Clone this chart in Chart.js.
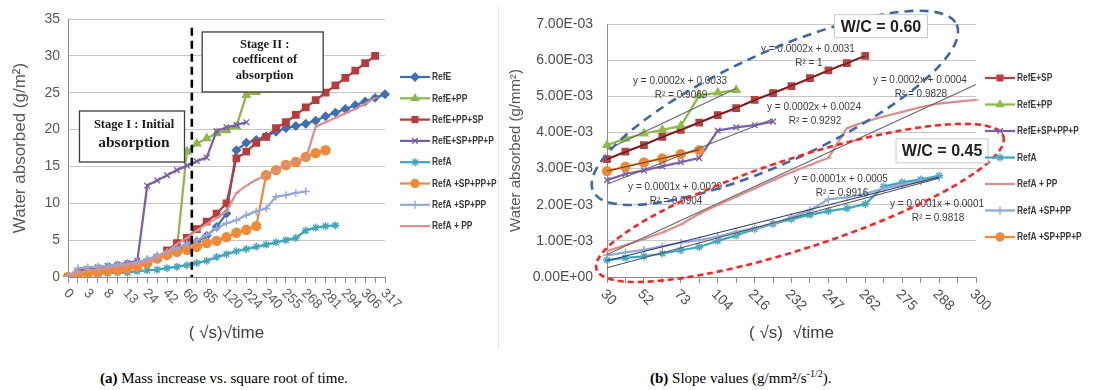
<!DOCTYPE html>
<html><head><meta charset="utf-8">
<script src="https://cdn.jsdelivr.net/npm/chart.js@4.4.1/dist/chart.umd.min.js"></script>
<style>
body{margin:0;background:#fff;width:1093px;height:390px;overflow:hidden;position:relative;}
#c1{position:absolute;left:0;top:0;}
#c2{position:absolute;left:498px;top:0;}
#sep{position:absolute;left:498px;top:6px;width:1px;height:342px;background:#e4e4e4;}
.cap{position:absolute;top:368px;line-height:20px;font-size:15px;color:#000;font-family:"Liberation Serif","Times New Roman",serif;white-space:nowrap;}
.cap sup{font-size:10px;vertical-align:6px;line-height:0;}
</style></head><body>
<canvas id="c1" width="498" height="355"></canvas>
<div id="sep"></div>
<canvas id="c2" width="595" height="355"></canvas>
<div class="cap" style="left:100px"><b>(a)</b> Mass increase vs. square root of time.</div>
<div class="cap" style="left:650px"><b>(b)</b> Slope values (g/mm<b>²</b>/s<sup>-1/2</sup>).</div>
<script>
// ---------------- DATA: left panel (mass increase) ----------------
const leftTimes = ['0','2','3','5','8','11','13','17','24','30','42','52','60','73','85','104','120','216','224','232','240','247','255','262','268','275','281','288','294','300','306','312','317'];
const L_RefE       = [0,0.6,0.8,1.0,1.2,1.4,1.6,1.8,2.1,2.6,3.1,3.6,4.3,4.8,5.6,6.8,8.6,17.2,18.2,18.6,19.1,19.7,20.2,20.5,20.8,21.2,21.8,22.3,22.8,23.3,23.8,24.3,24.8];
const L_RefE_PP    = [0,0.7,0.9,1.1,1.3,1.5,1.7,1.9,2.2,2.7,3.3,3.8,17.0,18.1,18.8,19.5,19.9,20.4,24.7,25.1,25.4];
const L_RefE_PP_SP = [0,0.5,0.7,0.9,1.1,1.3,1.5,1.7,2.0,2.6,3.6,4.6,5.3,6.5,7.5,8.6,10.0,16.1,17.0,18.2,19.0,20.2,21.0,22.0,23.0,24.0,25.0,26.0,27.0,28.0,29.0,30.0];
const L_RefE_SPPPP = [0,0.8,1.1,1.3,1.5,1.7,1.9,2.2,12.4,13.1,13.8,14.5,15.1,15.7,16.2,19.8,20.3,20.6,21.0];
const L_RefA       = [0,0.3,0.4,0.5,0.5,0.6,0.6,0.8,0.9,1.0,1.2,1.4,1.6,1.9,2.2,2.7,3.1,3.5,3.8,4.1,4.4,4.7,5.0,5.3,6.3,6.7,6.9,7.0];
const L_RefA_SPPPP = [0,0.3,0.5,0.6,0.8,0.9,1.1,1.4,1.9,2.5,3.0,3.4,3.7,4.1,4.6,4.9,5.4,6.0,6.4,6.9,13.8,14.5,15.2,15.6,16.3,16.8,17.2];
const L_RefA_SPPP  = [0,1.2,1.3,1.4,1.5,1.7,1.8,2.0,2.4,2.9,3.4,3.9,4.5,5.0,5.7,6.6,7.3,7.7,8.4,8.9,9.3,10.9,11.1,11.4,11.6];
const L_RefA_PP    = [0,0.6,0.8,1.0,1.2,1.4,1.6,1.8,2.1,2.6,3.4,4.5,5.3,6.3,7.2,8.0,8.9,11.4,12.4,13.2,13.8,14.4,15.3,15.7,16.0,20.4,21.0,21.6,22.2,22.8,23.5,24.3];
const leftYTicks = [0,5,10,15,20,25,30,35];

// ---------------- DATA: right panel (slope values) ----------------
const rightTimes = ['30','42','52','60','73','85','104','120','216','224','232','240','247','255','262','268','275','281','288','294','300'];
const R_RefE_SP    = [0.00326,0.00347,0.00365,0.00388,0.00407,0.00427,0.00448,0.00467,0.00490,0.00509,0.00528,0.00550,0.00572,0.00592,0.00612];
const R_RefE_PP    = [0.00365,0.00383,0.00397,0.00407,0.00418,0.00502,0.00510,0.00517];
const R_RefE_SPPPP = [0.00268,0.00285,0.00295,0.00306,0.00318,0.00329,0.00405,0.00414,0.00420,0.00430];
const R_RefA       = [0.00047,0.00053,0.00057,0.00065,0.00074,0.00083,0.00100,0.00115,0.00132,0.00147,0.00160,0.00172,0.00182,0.00190,0.00202,0.00250,0.00262,0.00270,0.00280];
const R_RefA_PP    = [0.00072,0.00088,0.00105,0.00123,0.00145,0.00175,0.00199,0.00222,0.00245,0.00268,0.00290,0.00310,0.00330,0.00412,0.00430,0.00444,0.00457,0.00470,0.00480,0.00485,0.00490];
const R_RefA_SPPP  = [0.00060,0.00068,0.00075,0.00085,0.00095,0.00102,0.00112,0.00125,0.00135,0.00148,0.00165,0.00185,0.00215,0.00220,0.00230,0.00245,0.00255,0.00265,0.00275];
const R_RefA_SPPPPP= [0.00293,0.00305,0.00317,0.00328,0.00340,0.00351];
const rightYTicks = [0,0.001,0.002,0.003,0.004,0.005,0.006,0.007];
const trendEq = ['y = 0.0002x + 0.0031','y = 0.0002x + 0.0033','y = 0.0002x + 0.0024','y = 0.0001x + 0.0001','y = 0.0002x + 0.0004','y = 0.0001x + 0.0005','y = 0.0001x + 0.0029'];
const trendR2 = ['R² = 1','R² = 0.9069','R² = 0.9292','R² = 0.9818','R² = 0.9828','R² = 0.9916','R² = 0.9904'];

// ---------------- styling ----------------
const F = '"Liberation Sans", Arial, sans-serif';
const FSERIF = '"Liberation Serif", "Times New Roman", serif';
const leftSeries = [
  {label:'RefE', data:L_RefE, color:'#3f6fb5', ps:'rectRot', r:4},
  {label:'RefE+PP', data:L_RefE_PP, color:'#8cb84b', ps:'triangle', r:4.5},
  {label:'RefE+PP+SP', data:L_RefE_PP_SP, color:'#b83c3a', ps:'rect', r:4.5},
  {label:'RefE+SP+PP+P', data:L_RefE_SPPPP, color:'#7b5ea7', ps:'crossRot', r:4},
  {label:'RefA', data:L_RefA, color:'#3fa6bd', ps:'star', r:4},
  {label:'RefA +SP+PP+P', data:L_RefA_SPPPP, color:'#f08a38', ps:'circle', r:4.5},
  {label:'RefA +SP+PP', data:L_RefA_SPPP, color:'#93a9d8', ps:'cross', r:4},
  {label:'RefA + PP', data:L_RefA_PP, color:'#d9908e', ps:'dash', r:3}
];
const rightSeries = [
  {label:'RefE+SP', data:R_RefE_SP, color:'#b5403f', ps:'rect', r:4.5, trend:'#5e1b1b'},
  {label:'RefE+PP', data:R_RefE_PP, color:'#8cbd4a', ps:'triangle', r:4.5, trend:'#666'},
  {label:'RefE+SP+PP+P', data:R_RefE_SPPPP, color:'#7d60a8', ps:'crossRot', r:4, trend:'#666'},
  {label:'RefA', data:R_RefA, color:'#40a7bf', ps:'star', r:4, trend:'#555'},
  {label:'RefA + PP', data:R_RefA_PP, color:'#d9908e', ps:'dash', r:3, trend:'#666'},
  {label:'RefA +SP+PP', data:R_RefA_SPPP, color:'#93a9d8', ps:'cross', r:4, trend:'#2f3d6a'},
  {label:'RefA +SP+PP+P', data:R_RefA_SPPPPP, color:'#f08a38', ps:'circle', r:4.5, trend:'#6b4020'}
];
// annotation anchors (category index, value)
const trendLabelPos = [[10.89,0.00631],[3.96,0.00542],[11.22,0.00470],[17.89,0.00202],[16.96,0.00545],[12.68,0.00271],[3.69,0.00249]];
const stageNotes = [
  {idx:6.46, val:19.06, w:105, h:51, lines:[['Stage I : Initial',12.5,-12],['absorption',15.5,6]]},
  {idx:19.65, val:29.17, w:121, h:60, lines:[['Stage II :',12.5,-17],['coefficent of',12.5,-2],['absorption',12.5,14]]}
];
const stageBoundary = {idx:12.5, top:33.8};
const wcBoxes = [{text:'W/C = 0.60', idx:14.85, val:0.00694, w:93, h:23},{text:'W/C = 0.45', idx:18.16, val:0.00349, w:92, h:24}];
const ellipses = [
  {idx:9.1, val:0.00468, a:10.84, b:0.00152, rot:-24.6, color:'#3d6aa6', dash:[9,6]},
  {idx:10.46, val:0.00205, a:11.6, b:0.001245, rot:-18.1, color:'#ff2222', dash:[6,4]}
];

function mkDatasets(series){
  return series.map((s,i)=>({label:s.label, data:s.data, borderColor:s.color, backgroundColor:s.color,
    borderWidth:2.25, pointStyle:s.ps, pointRadius:s.r, pointHoverRadius:s.r, pointBorderWidth:1.4,
    pointBackgroundColor:s.color, pointBorderColor:s.color, tension:0, order:-i, fill:false}));
}
function drawMarker(ctx, ps, r, x, y, color){
  ctx.fillStyle=color; ctx.strokeStyle=color; ctx.lineWidth=1.4;
  if (Chart.helpers && Chart.helpers.drawPoint) {
    Chart.helpers.drawPoint(ctx, {pointStyle:ps, radius:r, rotation:0, borderWidth:1.4}, x, y);
  } else { ctx.beginPath(); ctx.arc(x,y,r,0,Math.PI*2); ctx.fill(); }
}
function sci(v){
  if (Math.abs(v) < 1e-12) return '0.00E+00';
  const e = Math.floor(Math.log10(Math.abs(v)) + 1e-9);
  const m = v/Math.pow(10,e);
  return m.toFixed(2)+'E'+(e<0?'-':'+')+String(Math.abs(e)).padStart(2,'0');
}
function xLabelPlugin(labels, font, color, dx, dy){
  return {id:'xlabels', afterDraw(chart){
    const xs=chart.scales.x, ctx=chart.ctx;
    ctx.save(); ctx.font=font; ctx.fillStyle=color; ctx.textAlign='left'; ctx.textBaseline='middle';
    labels.forEach((lab,i)=>{ if(i%2) return; const x=xs.getPixelForValue(i);
      ctx.save(); ctx.translate(x+dx, xs.top+dy); ctx.rotate(Math.PI/4); ctx.fillText(lab,0,0); ctx.restore(); });
    ctx.restore();
  }};
}
function legendPlugin(series, lx, ly, gap, font){
  return {id:'customLegend', afterDraw(chart){
    const ctx=chart.ctx; ctx.save();
    series.forEach((s,k)=>{ const y=ly+k*gap;
      ctx.strokeStyle=s.color; ctx.lineWidth=2.25; ctx.beginPath(); ctx.moveTo(lx,y); ctx.lineTo(lx+30,y); ctx.stroke();
      drawMarker(ctx, s.ps, Math.min(s.r,4), lx+15, y, s.color);
      ctx.save(); ctx.translate(lx+32, y+0.5); ctx.scale(0.84,1);
      ctx.fillStyle='#3a3a3a'; ctx.font=font; ctx.textAlign='left'; ctx.textBaseline='middle';
      ctx.fillText(s.label, 0, 0); ctx.restore();
    });
    ctx.restore();
  }};
}

// ---------------- LEFT CHART ----------------
const leftAnno = {id:'leftAnno', afterDatasetsDraw(chart){
  const ctx=chart.ctx, xs=chart.scales.x, ys=chart.scales.y;
  ctx.save();
  const bx=xs.getPixelForValue(stageBoundary.idx);
  ctx.strokeStyle='#000'; ctx.lineWidth=2.6; ctx.setLineDash([8,5]);
  ctx.beginPath(); ctx.moveTo(bx, ys.getPixelForValue(stageBoundary.top)); ctx.lineTo(bx, ys.getPixelForValue(0)); ctx.stroke();
  ctx.setLineDash([]);
  stageNotes.forEach(n=>{
    const cx=xs.getPixelForValue(n.idx), cy=ys.getPixelForValue(n.val);
    ctx.fillStyle='#fff'; ctx.fillRect(cx-n.w/2, cy-n.h/2, n.w, n.h);
    ctx.strokeStyle='#3c3c3c'; ctx.lineWidth=1.3; ctx.strokeRect(cx-n.w/2, cy-n.h/2, n.w, n.h);
    ctx.fillStyle='#1a1a1a'; ctx.textAlign='center'; ctx.textBaseline='middle';
    n.lines.forEach(([t,sz,off])=>{ ctx.font='bold '+sz+'px '+FSERIF; ctx.fillText(t, cx+2, cy+off); });
  });
  ctx.restore();
}};
new Chart(document.getElementById('c1'), {
  type:'line',
  data:{labels:leftTimes, datasets:mkDatasets(leftSeries)},
  options:{responsive:false, animation:false, devicePixelRatio:1,
    layout:{padding:{left:0, top:19, right:113, bottom:0}},
    plugins:{legend:{display:false}, tooltip:{enabled:false}},
    scales:{
      x:{type:'category', offset:false,
        grid:{display:true, drawOnChartArea:false, drawTicks:true, tickLength:6, color:'#8c8c8c'},
        border:{display:true, color:'#8c8c8c'},
        ticks:{display:false},
        title:{display:true, text:'( √s)√time', font:{size:17, family:F}, color:'#404040', padding:{top:0,bottom:11}},
        afterFit(s){ s.height=78; }},
      y:{min:0, max:35,
        afterBuildTicks(s){ s.ticks = leftYTicks.map(v=>({value:v})); },
        ticks:{font:{size:14, family:F}, color:'#595959', padding:8},
        grid:{color:'#c6c6c6', drawTicks:false},
        border:{display:true, color:'#8c8c8c'},
        title:{display:true, text:'Water absorbed (g/m²)', font:{size:17, family:F}, color:'#595959', padding:{top:10,bottom:0}},
        afterFit(s){ s.width=68; }}
    }},
  plugins:[leftAnno, xLabelPlugin(leftTimes, '13.5px '+F, '#595959', -2, 14), legendPlugin(leftSeries, 400, 77, 21.3, 'bold 10px '+F)]
});

// ---------------- RIGHT CHART ----------------
function regress(data){
  const pts=[]; data.forEach((v,i)=>{ if(v!==null && v!==undefined) pts.push([i,v]); });
  const n=pts.length; let sx=0,sy=0,sxx=0,sxy=0;
  pts.forEach(([x,y])=>{sx+=x;sy+=y;sxx+=x*x;sxy+=x*y;});
  const b=(n*sxy-sx*sy)/(n*sxx-sx*sx), a=(sy-b*sx)/n;
  return {a,b,x0:pts[0][0],x1:pts[n-1][0]};
}
const rightAnno = {id:'rightAnno', afterDatasetsDraw(chart){
  const ctx=chart.ctx, xs=chart.scales.x, ys=chart.scales.y;
  ctx.save();
  rightSeries.forEach(s=>{
    const r=regress(s.data);
    ctx.strokeStyle=s.trend; ctx.lineWidth=1.1;
    ctx.beginPath(); ctx.moveTo(xs.getPixelForValue(r.x0), ys.getPixelForValue(r.a+r.b*r.x0));
    ctx.lineTo(xs.getPixelForValue(r.x1), ys.getPixelForValue(r.a+r.b*r.x1)); ctx.stroke();
  });
  ctx.fillStyle='#3c3c3c'; ctx.textAlign='center'; ctx.textBaseline='middle'; ctx.font='10px '+F;
  trendLabelPos.forEach((p,k)=>{
    const x=xs.getPixelForValue(p[0]), y=ys.getPixelForValue(p[1]);
    ctx.fillText(trendEq[k], x, y); ctx.fillText(trendR2[k], x+1, y+14);
  });
  const cw = xs.getPixelForValue(1)-xs.getPixelForValue(0);
  ellipses.forEach(e=>{
    const cx=xs.getPixelForValue(e.idx), cy=ys.getPixelForValue(e.val);
    const bpx=Math.abs(ys.getPixelForValue(e.b)-ys.getPixelForValue(0));
    ctx.strokeStyle=e.color; ctx.lineWidth=2.6; ctx.setLineDash(e.dash);
    ctx.beginPath(); ctx.ellipse(cx, cy, e.a*cw, bpx, e.rot*Math.PI/180, 0, Math.PI*2); ctx.stroke();
  });
  ctx.setLineDash([]);
  wcBoxes.forEach(b=>{
    const cx=xs.getPixelForValue(b.idx), cy=ys.getPixelForValue(b.val);
    ctx.fillStyle='#fff'; ctx.fillRect(cx-b.w/2, cy-b.h/2, b.w, b.h);
    ctx.strokeStyle='#c8c8c8'; ctx.lineWidth=1; ctx.strokeRect(cx-b.w/2, cy-b.h/2, b.w, b.h);
    ctx.fillStyle='#222'; ctx.font='bold 16px '+F; ctx.textAlign='center'; ctx.textBaseline='middle';
    ctx.fillText(b.text, cx, cy+1);
  });
  ctx.restore();
}};
new Chart(document.getElementById('c2'), {
  type:'line',
  data:{labels:rightTimes, datasets:mkDatasets(rightSeries)},
  options:{responsive:false, animation:false, devicePixelRatio:1,
    layout:{padding:{left:0, top:24, right:117, bottom:0}},
    plugins:{legend:{display:false}, tooltip:{enabled:false}},
    scales:{
      x:{type:'category', offset:false,
        grid:{display:true, drawOnChartArea:false, drawTicks:true, tickLength:6, color:'#8c8c8c'},
        border:{display:true, color:'#8c8c8c'},
        ticks:{display:false},
        title:{display:true, text:'( √s)  √time', font:{size:17, family:F}, color:'#404040', padding:{top:0,bottom:11}},
        afterFit(s){ s.height=78; }},
      y:{min:0, max:0.007,
        afterBuildTicks(s){ s.ticks = rightYTicks.map(v=>({value:v})); },
        ticks:{font:{size:14, family:F}, color:'#4d4d4d', padding:14, callback:(v)=>sci(v)},
        grid:{color:'#c6c6c6', drawTicks:false},
        border:{display:true, color:'#8c8c8c'},
        title:{display:true, text:'Water absorbed (g/mm²)', font:{size:15, family:F}, color:'#595959', padding:{top:9,bottom:0}},
        afterFit(s){ s.width=109; }}
    }},
  plugins:[rightAnno, xLabelPlugin(rightTimes, '14px '+F, '#4d4d4d', -4, 15), legendPlugin(rightSeries, 487, 78, 26.5, 'bold 10px '+F)]
});
</script>
</body></html>
